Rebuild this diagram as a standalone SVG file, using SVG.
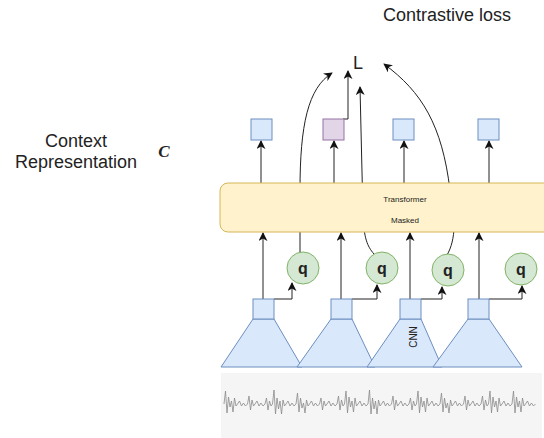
<svg xmlns="http://www.w3.org/2000/svg" width="544" height="438" viewBox="0 0 544 438">
<defs>
<style>
.lbl{font-family:"Liberation Sans",Arial,sans-serif;fill:#222;}
.blue{fill:#dae8fc;stroke:#6c8ebf;stroke-width:1;}
.purple{fill:#e1d5e7;stroke:#9673a6;stroke-width:1;}
.green{fill:#d5e8d4;stroke:#82b366;stroke-width:1;}
.yellow{fill:#fff2cc;stroke:#d6b656;stroke-width:1;}
.edge{fill:none;stroke:#222;stroke-width:1;marker-end:url(#arr);}
</style>
<marker id="arr" viewBox="0 0 10 10" refX="9" refY="5" markerWidth="9" markerHeight="9" markerUnits="userSpaceOnUse" orient="auto">
<path d="M0 0 L10 5 L0 10 L3 5 Z" fill="#111"/>
</marker>
</defs>
<rect width="544" height="438" fill="#ffffff"/>

<g id="labels">
<text class="lbl" x="447" y="21" font-size="18" text-anchor="middle">Contrastive loss</text>
<text class="lbl" x="76" y="147" font-size="18" text-anchor="middle">Context</text>
<text class="lbl" x="76" y="168" font-size="18" text-anchor="middle">Representation</text>
<text x="164" y="157" font-size="17" font-style="italic" font-weight="bold" font-family="'Liberation Serif',serif" text-anchor="middle" fill="#222">C</text>
<text class="lbl" x="353" y="69" font-size="18">L</text>
</g>

<g id="waveform">
<rect x="221" y="373" width="321" height="65" fill="#f5f5f5"/>
<path fill="none" stroke="#8a8a8a" stroke-width="0.8" d="M224 404
l1.5 -13 l1.5 22 l1.5 -16 l1.5 10 l1.5 -6 l1.5 11 l1.5 -14 l1.5 8 l1.5 -2
l2 -3 l2 5 l2 -3 l2 3 l2 -2
l1.5 -8 l1.5 14 l1.5 -10 l1.5 6 l1.5 -2
l2 -3 l2 5 l2 -3 l2 3 l2 -2
l1.5 -6 l1.5 12 l1.5 -9 l1.5 5 l1.5 -2
l1.5 -14 l1.5 24 l1.5 -16 l1.5 11 l1.5 -8 l1.5 13 l1.5 -14 l1.5 6 l1.5 -2
l2 -3 l2 5 l2 -3 l2 3 l2 -2
l1.5 -11 l1.5 19 l1.5 -14 l1.5 10 l1.5 -5 l1.5 10 l1.5 -13 l1.5 6 l1.5 -2
l2 -3 l2 5 l2 -3 l2 3 l2 -2
l1.5 -6 l1.5 12 l1.5 -9 l1.5 5 l1.5 -2
l2 -3 l2 5 l2 -3 l2 3 l2 -2
l1.5 -8 l1.5 14 l1.5 -10 l1.5 6 l1.5 -2
l1.5 -13 l1.5 22 l1.5 -16 l1.5 10 l1.5 -6 l1.5 11 l1.5 -14 l1.5 8 l1.5 -2
l2 -3 l2 5 l2 -3 l2 3 l2 -2
l1.5 -14 l1.5 24 l1.5 -16 l1.5 11 l1.5 -8 l1.5 13 l1.5 -14 l1.5 6 l1.5 -2
l2 -3 l2 5 l2 -3 l2 3 l2 -2
l1.5 -8 l1.5 14 l1.5 -10 l1.5 6 l1.5 -2
l2 -3 l2 5 l2 -3 l2 3 l2 -2
l1.5 -6 l1.5 12 l1.5 -9 l1.5 5 l1.5 -2
l1.5 -13 l1.5 22 l1.5 -16 l1.5 10 l1.5 -6 l1.5 11 l1.5 -14 l1.5 8 l1.5 -2
l2 -3 l2 5 l2 -3 l2 3 l2 -2
l1.5 -11 l1.5 19 l1.5 -14 l1.5 10 l1.5 -5 l1.5 10 l1.5 -13 l1.5 6 l1.5 -2
l2 -3 l2 5 l2 -3 l2 3 l2 -2
l1.5 -8 l1.5 14 l1.5 -10 l1.5 6 l1.5 -2
l2 -3 l2 5 l2 -3 l2 3 l2 -2
l1.5 -8 l1.5 14 l1.5 -10 l1.5 6 l1.5 -2
l1.5 -13 l1.5 22 l1.5 -16 l1.5 10 l1.5 -6 l1.5 11 l1.5 -14 l1.5 8 l1.5 -2
l2 -3 l2 5 l2 -3 l2 3 l2 -2
l1.5 -13 l1.5 22 l1.5 -16 l1.5 10 l1.5 -6 l1.5 11 l1.5 -14 l1.5 8 l1.5 -2
l2 -3 l2 5 l2 -3 l2 3 l2 -2"/>
</g>

<g id="connectors">
<path class="edge" d="M261 183 V141"/>
<path class="edge" d="M334 183 V141"/>
<path class="edge" d="M404 183 V141"/>
<path class="edge" d="M489 183 V141"/>
<path class="edge" d="M343 119 H348 V71"/>
<path class="edge" d="M300 253 L300 190 C300 125 308 88 332 73"/>
<path class="edge" d="M374 254 C367 246 364 238 363 215 L360 87"/>
<path class="edge" d="M447 255 C456 240 456 215 450 190 C442 125 422 92 384 64"/>
<path class="edge" d="M263 299 V233"/>
<path class="edge" d="M341 299 V233"/>
<path class="edge" d="M410 299 V233"/>
<path class="edge" d="M479 299 V233"/>
<path class="edge" d="M274 299 H292 V283"/>
<path class="edge" d="M352 299 H377 V285"/>
<path class="edge" d="M421 299 H442 V287"/>
<path class="edge" d="M489 299 H522 V286"/>
</g>

<g id="transformer">
<rect class="yellow" x="220" y="183" width="340" height="49" rx="8"/>
<text class="lbl" x="405" y="202" font-size="8" text-anchor="middle">Transformer</text>
<text class="lbl" x="405" y="223" font-size="8" text-anchor="middle">Masked</text>
</g>

<g id="ctx1"><rect class="blue" x="251" y="119" width="21" height="21"/></g>
<g id="ctx2"><rect class="purple" x="323" y="119" width="21" height="21"/></g>
<g id="ctx3"><rect class="blue" x="393" y="119" width="21" height="21"/></g>
<g id="ctx4"><rect class="blue" x="478" y="119" width="21" height="21"/></g>

<g id="q1"><circle class="green" cx="303" cy="268" r="16"/><text class="lbl" x="303" y="274" font-size="16" font-weight="bold" text-anchor="middle">q</text></g>
<g id="q2"><circle class="green" cx="382" cy="268" r="16"/><text class="lbl" x="382" y="274" font-size="16" font-weight="bold" text-anchor="middle">q</text></g>
<g id="q3"><circle class="green" cx="448" cy="270" r="16"/><text class="lbl" x="448" y="276" font-size="16" font-weight="bold" text-anchor="middle">q</text></g>
<g id="q4"><circle class="green" cx="521" cy="269" r="16"/><text class="lbl" x="521" y="275" font-size="16" font-weight="bold" text-anchor="middle">q</text></g>

<g id="cnn1"><polygon class="blue" points="253,319 274,319 302,367 221,367"/><rect class="blue" x="253" y="299" width="21" height="20"/></g>
<g id="cnn2"><polygon class="blue" points="331,319 352,319 375,367 297,367"/><rect class="blue" x="331" y="299" width="21" height="20"/></g>
<g id="cnn3"><polygon class="blue" points="400,319 421,319 442,367 367,367"/><rect class="blue" x="400" y="299" width="21" height="20"/><text class="lbl" x="0" y="0" font-size="10" text-anchor="middle" transform="translate(417,337) rotate(-90)">CNN</text></g>
<g id="cnn4"><polygon class="blue" points="468,319 489,319 522,367 433,367"/><rect class="blue" x="468" y="299" width="21" height="20"/></g>
</svg>
